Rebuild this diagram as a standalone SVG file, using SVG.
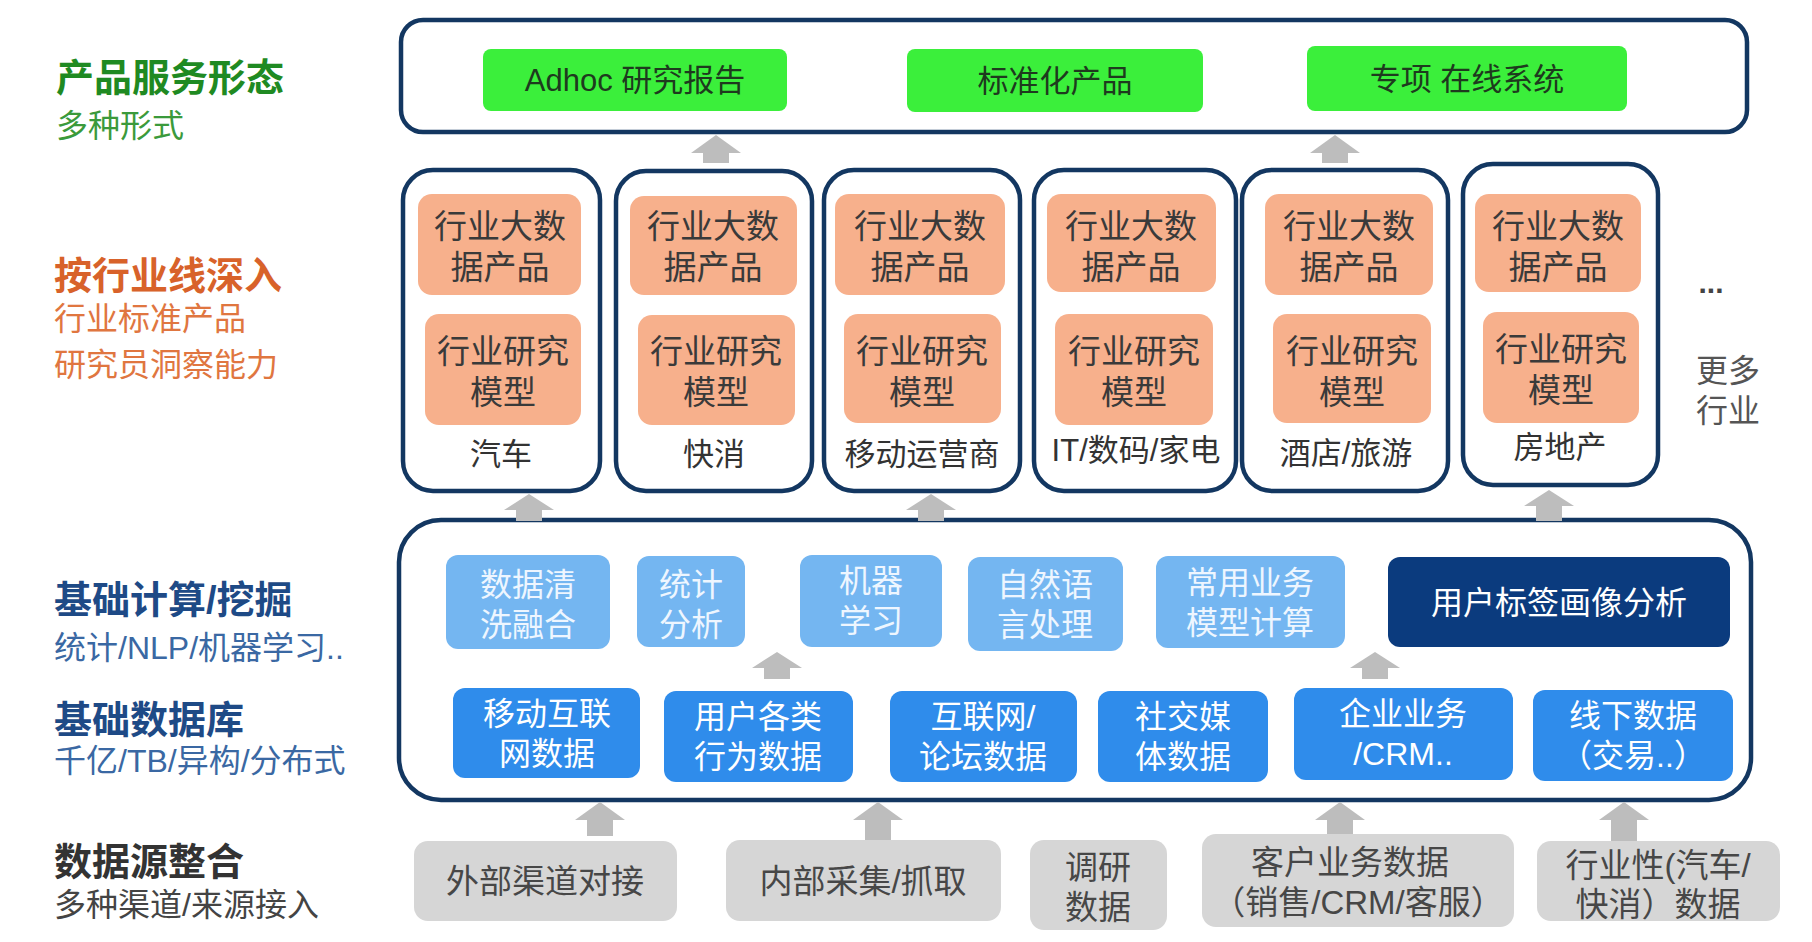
<svg xmlns="http://www.w3.org/2000/svg" width="1812" height="942" viewBox="0 0 1812 942">
<style>
text{font-family:"Liberation Sans","Noto Sans CJK SC",sans-serif;}
.frame{fill:#fff;stroke:#133761;stroke-width:4.5;}
.green{fill:#3bef3b;}
.gt{font-size:31px;fill:#1e3a1e;text-anchor:middle;}
.orange{fill:#f7b08c;}
.ot{font-size:33px;fill:#3a3a3a;text-anchor:middle;}
.lab{font-size:31px;fill:#333;text-anchor:middle;}
.lb{fill:#74b6f1;}
.lbt{font-size:32px;fill:#eef6ff;text-anchor:middle;}
.navy{fill:#0b3b7e;}
.bl{fill:#2f8ceb;}
.wt{font-size:32px;fill:#fff;text-anchor:middle;}
.gray{fill:#d6d6d6;}
.grt{font-size:33px;fill:#474747;text-anchor:middle;}
.arrow{fill:#bdbdbd;}
.h{font-size:38px;font-weight:bold;}
.s{font-size:32px;}
</style>

<g id="left-labels">
<text x="56" y="91" class="h" fill="#1f8a22">产品服务形态</text>
<text x="56" y="137" class="s" fill="#3b9a3b">多种形式</text>
<text x="54" y="289" class="h" fill="#d8622a">按行业线深入</text>
<text x="54" y="330" class="s" fill="#e07640">行业标准产品</text>
<text x="54" y="376" class="s" fill="#e07640">研究员洞察能力</text>
<text x="54" y="613" class="h" fill="#1e4a86">基础计算/挖掘</text>
<text x="54" y="659" class="s" fill="#3a68a3">统计/NLP/机器学习..</text>
<text x="54" y="733" class="h" fill="#1e4a86">基础数据库</text>
<text x="54" y="772" class="s" fill="#3a68a3">千亿/TB/异构/分布式</text>
<text x="54" y="875" class="h" fill="#333">数据源整合</text>
<text x="54" y="916" class="s" fill="#444">多种渠道/来源接入</text>
</g>

<g id="product-layer">
<rect class="frame" x="401" y="20" width="1346" height="112" rx="22"/>
<g id="p-adhoc"><rect class="green" x="483" y="49" width="304" height="62" rx="8"/><text class="gt" x="635" y="91">Adhoc 研究报告</text></g>
<g id="p-standard"><rect class="green" x="907" y="49" width="296" height="63" rx="8"/><text class="gt" x="1055" y="92">标准化产品</text></g>
<g id="p-online"><rect class="green" x="1307" y="46" width="320" height="65" rx="8"/><text class="gt" x="1467" y="90">专项 在线系统</text></g>
</g>

<g id="industry-layer">
<g id="ind-car">
<rect class="frame" x="403" y="170" width="197" height="321" rx="30"/>
<rect class="orange" x="418" y="194" width="163" height="101" rx="14"/>
<text class="ot" x="500" y="238">行业大数<tspan x="500" dy="41">据产品</tspan></text>
<rect class="orange" x="425" y="314" width="156" height="111" rx="14"/>
<text class="ot" x="503" y="363">行业研究<tspan x="503" dy="41">模型</tspan></text>
<text class="lab" x="501" y="465">汽车</text>
</g>
<g id="ind-fmcg">
<rect class="frame" x="616" y="171" width="196" height="320" rx="30"/>
<rect class="orange" x="630" y="196" width="167" height="99" rx="14"/>
<text class="ot" x="713" y="238">行业大数<tspan x="713" dy="41">据产品</tspan></text>
<rect class="orange" x="638" y="315" width="157" height="110" rx="14"/>
<text class="ot" x="716" y="363">行业研究<tspan x="716" dy="41">模型</tspan></text>
<text class="lab" x="714" y="465">快消</text>
</g>
<g id="ind-mobile">
<rect class="frame" x="824" y="170" width="196" height="321" rx="30"/>
<rect class="orange" x="835" y="194" width="170" height="101" rx="14"/>
<text class="ot" x="920" y="238">行业大数<tspan x="920" dy="41">据产品</tspan></text>
<rect class="orange" x="844" y="314" width="157" height="109" rx="14"/>
<text class="ot" x="922" y="363">行业研究<tspan x="922" dy="41">模型</tspan></text>
<text class="lab" x="922" y="465">移动运营商</text>
</g>
<g id="ind-it">
<rect class="frame" x="1034" y="170" width="202" height="321" rx="30"/>
<rect class="orange" x="1047" y="194" width="169" height="98" rx="14"/>
<text class="ot" x="1131" y="238">行业大数<tspan x="1131" dy="41">据产品</tspan></text>
<rect class="orange" x="1055" y="314" width="158" height="111" rx="14"/>
<text class="ot" x="1134" y="363">行业研究<tspan x="1134" dy="41">模型</tspan></text>
<text class="lab" x="1136" y="461">IT/数码/家电</text>
</g>
<g id="ind-hotel">
<rect class="frame" x="1242" y="170" width="206" height="321" rx="30"/>
<rect class="orange" x="1265" y="194" width="168" height="101" rx="14"/>
<text class="ot" x="1349" y="238">行业大数<tspan x="1349" dy="41">据产品</tspan></text>
<rect class="orange" x="1273" y="314" width="158" height="109" rx="14"/>
<text class="ot" x="1352" y="363">行业研究<tspan x="1352" dy="41">模型</tspan></text>
<text class="lab" x="1346" y="464">酒店/旅游</text>
</g>
<g id="ind-realestate">
<rect class="frame" x="1463" y="164" width="195" height="321" rx="30"/>
<rect class="orange" x="1475" y="194" width="166" height="98" rx="14"/>
<text class="ot" x="1558" y="238">行业大数<tspan x="1558" dy="41">据产品</tspan></text>
<rect class="orange" x="1483" y="312" width="156" height="111" rx="14"/>
<text class="ot" x="1561" y="361">行业研究<tspan x="1561" dy="41">模型</tspan></text>
<text class="lab" x="1560" y="458">房地产</text>
</g>
<g id="ind-more">
<text x="1711" y="293" font-size="30" font-weight="bold" fill="#444" text-anchor="middle">...</text>
<text x="1728" y="382" font-size="32" fill="#555" text-anchor="middle">更多<tspan x="1728" dy="40">行业</tspan></text>
</g>
</g>

<g id="base-layer">
<rect class="frame" x="399" y="520" width="1352" height="280" rx="42"/>
<g id="c-clean"><rect class="lb" x="446" y="555" width="164" height="94" rx="12"/><text class="lbt" x="528" y="596">数据清<tspan x="528" dy="40">洗融合</tspan></text></g>
<g id="c-stat"><rect class="lb" x="637" y="556" width="108" height="91" rx="12"/><text class="lbt" x="691" y="596">统计<tspan x="691" dy="40">分析</tspan></text></g>
<g id="c-ml"><rect class="lb" x="800" y="555" width="142" height="92" rx="12"/><text class="lbt" x="871" y="592">机器<tspan x="871" dy="40">学习</tspan></text></g>
<g id="c-nlp"><rect class="lb" x="968" y="557" width="155" height="94" rx="12"/><text class="lbt" x="1045" y="596">自然语<tspan x="1045" dy="40">言处理</tspan></text></g>
<g id="c-model"><rect class="lb" x="1156" y="556" width="189" height="92" rx="12"/><text class="lbt" x="1250" y="594">常用业务<tspan x="1250" dy="40">模型计算</tspan></text></g>
<g id="c-profile"><rect class="navy" x="1388" y="557" width="342" height="90" rx="12"/><text class="wt" x="1559" y="614">用户标签画像分析</text></g>

<g id="d-mobile"><rect class="bl" x="453" y="688" width="187" height="90" rx="12"/><text class="wt" x="547" y="725">移动互联<tspan x="547" dy="40">网数据</tspan></text></g>
<g id="d-behavior"><rect class="bl" x="664" y="691" width="189" height="91" rx="12"/><text class="wt" x="758" y="728">用户各类<tspan x="758" dy="40">行为数据</tspan></text></g>
<g id="d-forum"><rect class="bl" x="890" y="691" width="187" height="91" rx="12"/><text class="wt" x="983" y="728">互联网/<tspan x="983" dy="40">论坛数据</tspan></text></g>
<g id="d-social"><rect class="bl" x="1098" y="691" width="170" height="91" rx="12"/><text class="wt" x="1183" y="728">社交媒<tspan x="1183" dy="40">体数据</tspan></text></g>
<g id="d-crm"><rect class="bl" x="1294" y="688" width="219" height="92" rx="12"/><text class="wt" x="1403" y="725">企业业务<tspan x="1403" dy="40">/CRM..</tspan></text></g>
<g id="d-offline"><rect class="bl" x="1533" y="690" width="200" height="91" rx="12"/><text class="wt" x="1633" y="727">线下数据<tspan x="1633" dy="40">（交易..）</tspan></text></g>
</g>

<g id="source-layer">
<g id="s-external"><rect class="gray" x="414" y="841" width="263" height="80" rx="14"/><text class="grt" x="545" y="893">外部渠道对接</text></g>
<g id="s-internal"><rect class="gray" x="726" y="840" width="275" height="81" rx="14"/><text class="grt" x="863" y="893">内部采集/抓取</text></g>
<g id="s-survey"><rect class="gray" x="1030" y="840" width="137" height="90" rx="14"/><text class="grt" x="1098" y="879">调研<tspan x="1098" dy="40">数据</tspan></text></g>
<g id="s-client"><rect class="gray" x="1202" y="834" width="312" height="93" rx="14"/><text class="grt" x="1350" y="874">客户业务数据<tspan x="1358" dy="40">（销售/CRM/客服）</tspan></text></g>
<g id="s-industry"><rect class="gray" x="1537" y="841" width="243" height="80" rx="14"/><text class="grt" x="1658" y="877">行业性(汽车/<tspan x="1658" dy="39">快消）数据</tspan></text></g>
</g>

<g id="connectors">
<path class="arrow" d="M716,135 L741,153 L729,153 L729,163 L703,163 L703,153 L691,153 Z"/>
<path class="arrow" d="M1335,135 L1360,153 L1348,153 L1348,163 L1322,163 L1322,153 L1310,153 Z"/>
<path class="arrow" d="M529,494 L554,510 L542,510 L542,521 L516,521 L516,510 L504,510 Z"/>
<path class="arrow" d="M931,494 L956,510 L944,510 L944,521 L918,521 L918,510 L906,510 Z"/>
<path class="arrow" d="M1549,490 L1574,506 L1562,506 L1562,521 L1536,521 L1536,506 L1524,506 Z"/>
<path class="arrow" d="M777,652 L802,668 L790,668 L790,679 L764,679 L764,668 L752,668 Z"/>
<path class="arrow" d="M1375,652 L1400,668 L1388,668 L1388,679 L1362,679 L1362,668 L1350,668 Z"/>
<path class="arrow" d="M600,802 L625,820 L613,820 L613,836 L587,836 L587,820 L575,820 Z"/>
<path class="arrow" d="M878,802 L903,820 L891,820 L891,840 L865,840 L865,820 L853,820 Z"/>
<path class="arrow" d="M1340,802 L1365,820 L1353,820 L1353,834 L1327,834 L1327,820 L1315,820 Z"/>
<path class="arrow" d="M1624,802 L1649,820 L1637,820 L1637,841 L1611,841 L1611,820 L1599,820 Z"/>
</g>
</svg>
